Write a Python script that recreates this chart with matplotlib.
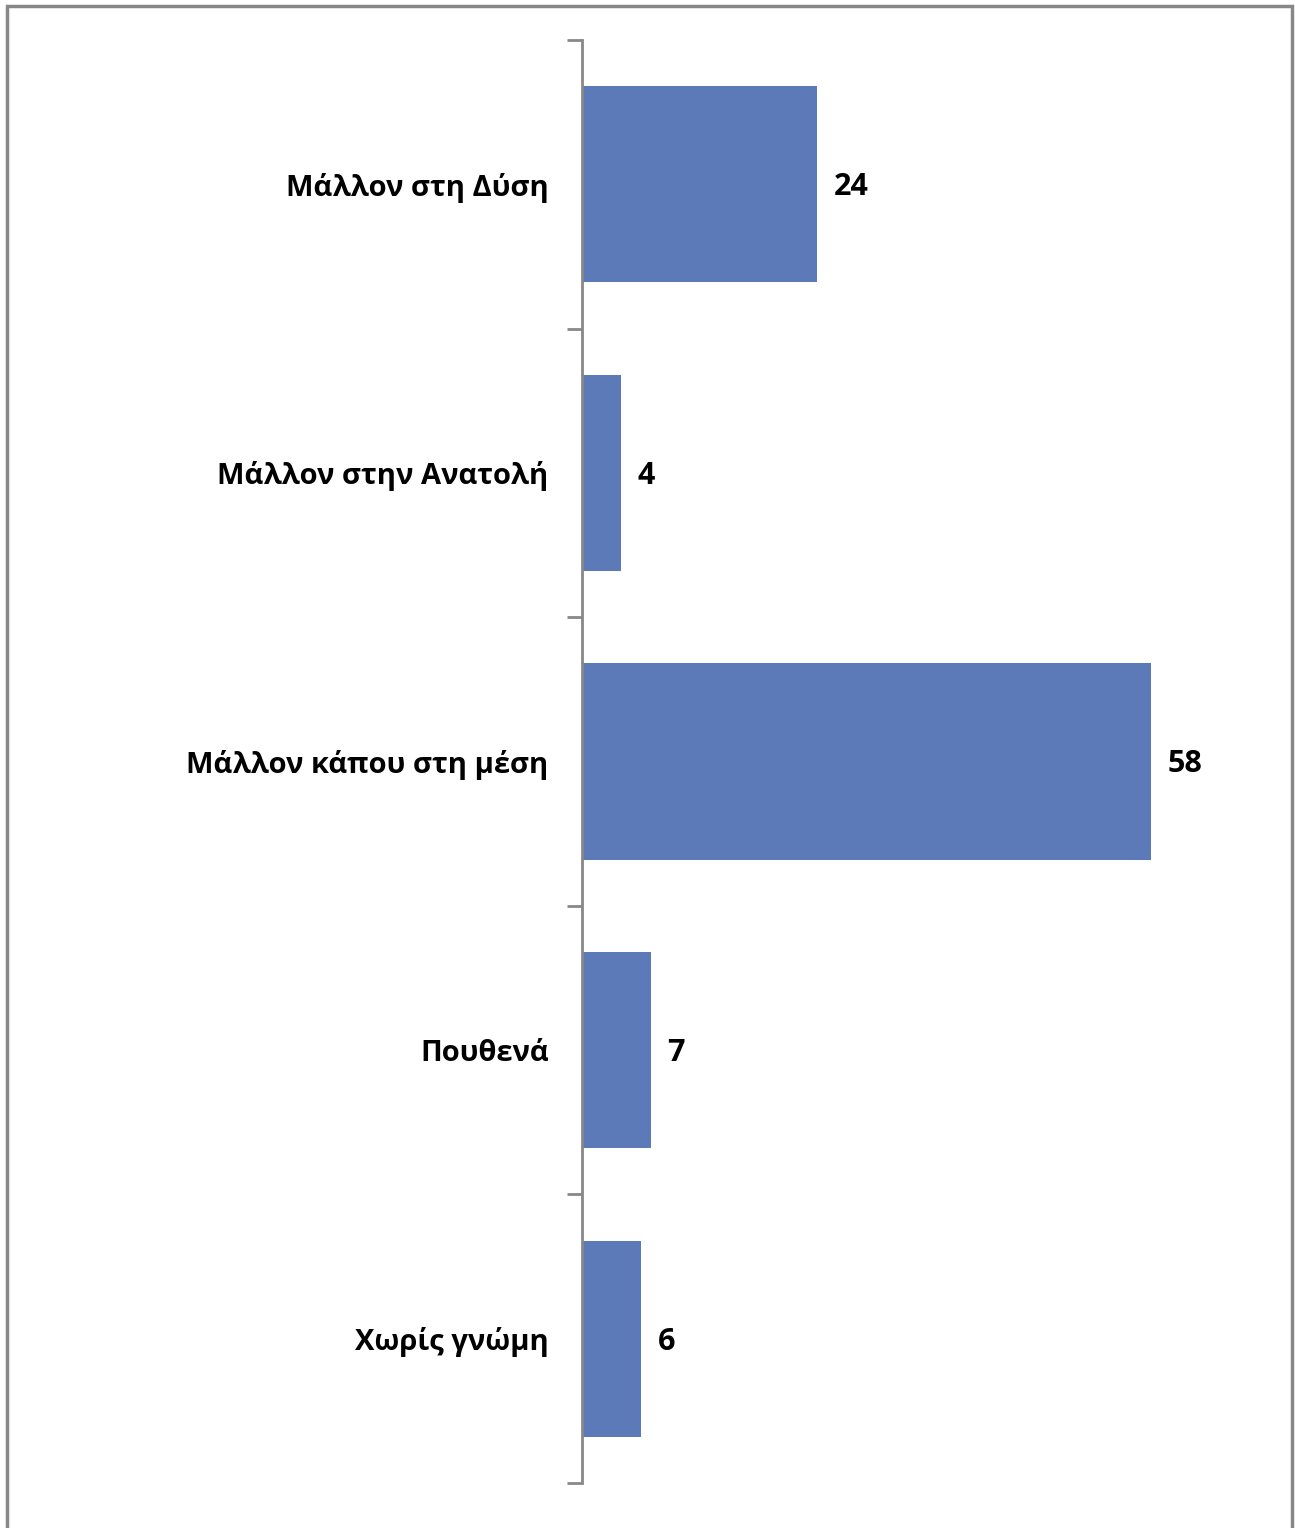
import matplotlib.pyplot as plt
from matplotlib.patches import Rectangle

plt.rcParams['font.family'] = ['Open Sans', 'DejaVu Sans']

# Data
categories = ['Μάλλον στη Δύση', 'Μάλλον στην Ανατολή', 'Μάλλον κάπου στη μέση',
              'Πουθενά', 'Χωρίς γνώμη']
values = [24, 4, 58, 7, 6]

fig = plt.figure(figsize=(12.95, 15.28), dpi=100)
ax = fig.add_axes([582 / 1295, 1 - 1483 / 1528, (1270 - 582) / 1295, (1483 - 40) / 1528])

pos = list(range(len(categories)))
ax.barh(pos, values, height=0.68, color='#5B7AB7')
ax.set_ylim(len(categories) - 0.5, -0.5)
ax.set_xlim(0, 688 / 9.81)

# labels next to bars
for p, v in zip(pos, values):
    ax.text(v + 1.7, p + 0.01, str(v), va='center', ha='left', fontsize=22, fontweight='bold')

# category labels, ticks on boundaries
ax.set_yticks([p + 0.5 for p in [-1] + pos])
ax.set_yticklabels([])
ax.tick_params(axis='y', length=11, width=2, color='#888888', direction='out')
ax.set_yticks(pos, minor=True)
ax.set_yticklabels(categories, minor=True, fontsize=21, fontweight='bold')
ax.tick_params(axis='y', which='minor', length=0, pad=24)
ax.set_xticks([])

for s in ['top', 'right', 'bottom']:
    ax.spines[s].set_visible(False)
ax.spines['left'].set_color('#888888')
ax.spines['left'].set_linewidth(2)

# outer frame
fig.patches.append(Rectangle((7 / 1295, -0.01), 1285 / 1295, 1 - 6 / 1528 + 0.01,
                             transform=fig.transFigure, fill=False,
                             edgecolor='#888888', linewidth=2.5))

fig.savefig('out.png', dpi=100)
